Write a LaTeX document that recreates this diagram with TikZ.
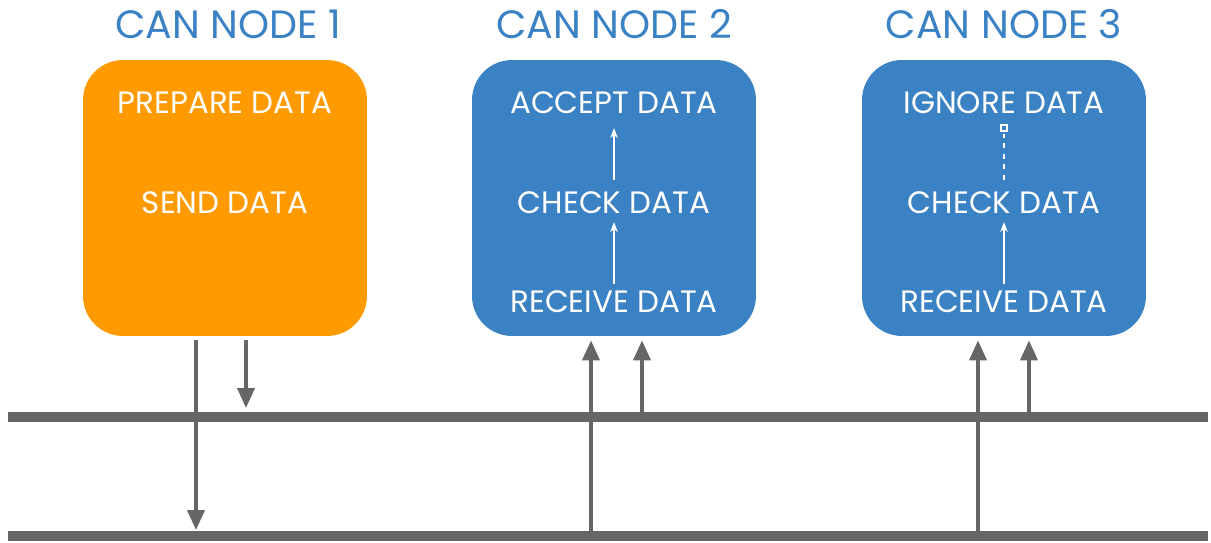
\documentclass[tikz,border=0pt]{standalone}
\usepackage{fontspec}
\setmainfont{Poppins}
\usetikzlibrary{arrows.meta}
\definecolor{canorange}{HTML}{FF9A00}
\definecolor{canblue}{HTML}{3A82C4}
\definecolor{busgray}{HTML}{666666}
\tikzset{>={Triangle[length=0.4cm,width=0.34cm]}}
\tikzset{
  nodebox/.style={rounded corners=0.8cm, minimum width=5.68cm, minimum height=5.52cm, inner sep=0pt},
  nodetitle/.style={anchor=base, text=canblue, font=\fontsize{22.5}{26}\selectfont},
  steptext/.style={anchor=base, text=white, font=\fontsize{17.6}{21}\selectfont},
  inner/.style={white, line width=1pt, -{Stealth[length=0.2cm,width=0.15cm]}},
  tap/.style={busgray, line width=2.2pt, ->}
}

\begin{document}
\begin{tikzpicture}[x=0.02cm, y=-0.02cm]
          \useasboundingbox (0,0) rectangle (1211,542);
          % the three CAN nodes
          \node[nodebox, fill=canorange] (box1) at (225,198) {};
          \node[nodebox, fill=canblue] (box2) at (614,198) {};
          \node[nodebox, fill=canblue] (box3) at (1004,198) {};
          \node[nodetitle] (title1) at (228,38) {CAN NODE 1};
          \node[nodetitle] (title2) at (614,38) {CAN NODE 2};
          \node[nodetitle] (title3) at (1004,38) {CAN NODE 3};
          \node[steptext] (prep) at (225,113) {PREPARE DATA};
          \node[steptext] (send) at (225,213) {SEND DATA};
          \node[steptext] (accept) at (614,113) {ACCEPT DATA};
          \node[steptext] (check2) at (614,213) {CHECK DATA};
          \node[steptext] (recv2) at (614,312) {RECEIVE DATA};
          \node[steptext] (ignore) at (1004,113) {IGNORE DATA};
          \node[steptext] (check3) at (1004,213) {CHECK DATA};
          \node[steptext] (recv3) at (1004,312) {RECEIVE DATA};
          \draw[inner] (recv2.north) -- (check2.north |- 0,222);
          \draw[inner] (614,180) -- (accept.north |- 0,128);
          \draw[inner] (recv3.north) -- (check3.north |- 0,222);
          \draw[white, line width=1pt, dashed] (1004,180) -- (ignore.north |- 0,134);
          \draw[white, line width=0.8pt] (1001,125) rectangle (1007,131);
          % the two bus wires
          \coordinate (hiL) at (8,417);
          \coordinate (hiR) at (1208,417);
          \coordinate (loL) at (8,536);
          \coordinate (loR) at (1208,536);
          \draw[busgray, line width=5.7pt] (hiL) -- (hiR);
          \draw[busgray, line width=5.7pt] (loL) -- (loR);
          \begin{scope}[tap]
            \draw[shorten <=0.08cm, shorten >=0.12cm] (196,0 |- box1.south) -- (196,0 |- loL);
            \draw[shorten <=0.08cm, shorten >=0.18cm] (246,0 |- box1.south) -- (246,0 |- hiL);
            \draw[shorten >=0.08cm] (591,0 |- loL) -- (591,0 |- box2.south);
            \draw[shorten >=0.08cm] (642,0 |- hiL) -- (642,0 |- box2.south);
            \draw[shorten >=0.08cm] (978,0 |- loL) -- (978,0 |- box3.south);
            \draw[shorten >=0.08cm] (1029,0 |- hiL) -- (1029,0 |- box3.south);
          \end{scope}
        \end{tikzpicture}
\end{document}
